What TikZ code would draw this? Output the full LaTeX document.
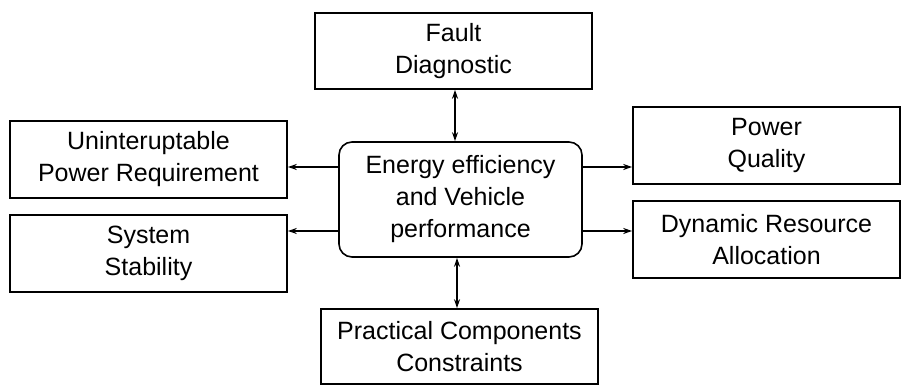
\documentclass[tikz,border=0pt]{standalone}
\usepackage{fontspec}
\setmainfont{Liberation Sans}
\usetikzlibrary{arrows.meta,positioning}

\begin{document}
\begin{tikzpicture}[x=1pt,y=1pt,>={Stealth[length=9pt,width=6pt]},
                    box/.style={rectangle,draw,line width=1.6pt,inner sep=0pt,align=center,
                                font=\fontsize{25}{32}\selectfont},
                    hub/.style={box,rounded corners=13pt},
                    link/.style={line width=1.3pt}]
  \useasboundingbox (0,0) rectangle (901,385);

  \node[hub,minimum width=243pt,minimum height=115pt] (hub) at (460.5,185.5)
    {Energy efficiency\\and Vehicle\\performance};
  \node[box,minimum width=277pt,minimum height=76pt] (fault) at (453.5,334) {Fault\\Diagnostic};
  \node[box,minimum width=277pt,minimum height=77pt] (ups) at (148.5,225.5)
    {Uninteruptable\\Power Requirement};
  \node[box,minimum width=277pt,minimum height=77pt] (stab) at (148.5,131.5) {System\\Stability};
  \node[box,minimum width=267pt,minimum height=77pt] (pq) at (766.5,239.5) {Power\\Quality};
  \node[box,minimum width=267pt,minimum height=77pt] (dra) at (766.5,145.5)
    {Dynamic Resource\\Allocation};
  \node[box,minimum width=277pt,minimum height=75pt] (pcc) at (459.5,38.5)
    {Practical Components\\Constraints};

  % vertical links
  \draw[link,<->] ([xshift=-5.5pt]hub.north) -- ([xshift=-5.5pt]hub.north |- fault.south);
  \draw[link,<->] ([xshift=-3.5pt]hub.south) -- ([xshift=-3.5pt]hub.south |- pcc.north);

  % side links
  \draw[link,->] ([yshift=32.5pt]hub.west) -- ([yshift=32.5pt]hub.west -| ups.east);
  \draw[link,->] ([yshift=-31.5pt]hub.west) -- ([yshift=-31.5pt]hub.west -| stab.east);
  \draw[link,->] ([yshift=32.5pt]hub.east) -- ([yshift=32.5pt]hub.east -| pq.west);
  \draw[link,->] ([yshift=-31.5pt]hub.east) -- ([yshift=-31.5pt]hub.east -| dra.west);
\end{tikzpicture}
\end{document}
